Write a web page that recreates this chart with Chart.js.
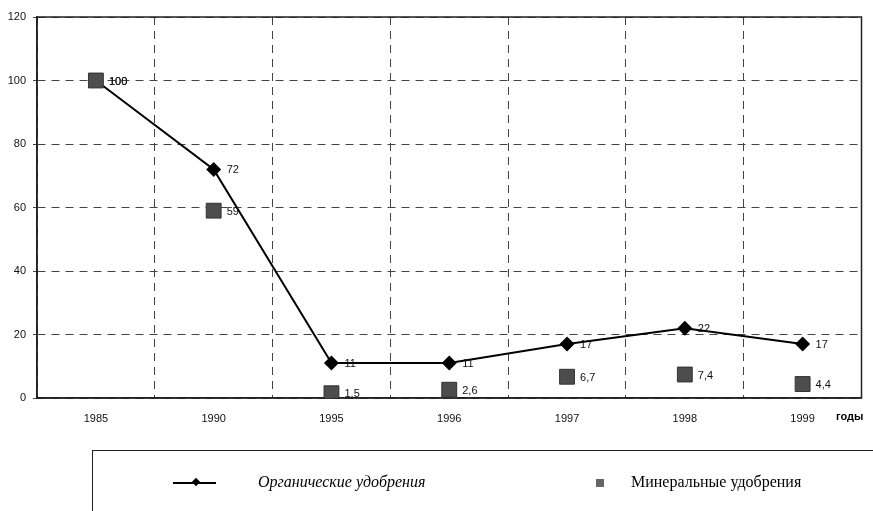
<!DOCTYPE html>
<html>
<head>
<meta charset="utf-8">
<script src="https://cdn.jsdelivr.net/npm/chart.js@4"></script>
<style>
  body { margin: 0; background: #fff; }
  #wrap { position: relative; width: 873px; height: 511px; }
  #years { position: absolute; left: 836px; top: 410px; font: bold 11px "Liberation Sans", Arial, sans-serif; color: #000; }
  #legendBox { position: absolute; left: 92px; top: 450px; width: 781px; height: 61px;
    border-top: 1px solid #222; border-left: 1px solid #222; font-family: "Liberation Serif", "Times New Roman", serif; font-size: 16px; }
  .item { position: absolute; top: 22px; color: #000; }
  .lineSample { position: absolute; left: 80px; top: 31px; width: 43px; height: 2px; background: #000; }
  .diamond { position: absolute; left: 100px; top: 28px; width: 6px; height: 6px; background: #000; transform: rotate(45deg); }
  .squareSample { position: absolute; left: 503px; top: 28px; width: 8px; height: 8px; background: #666; }
</style>
</head>
<body>
<div id="wrap">
  <canvas id="fertChart" width="873" height="511"></canvas>
  <div id="years">годы</div>
  <div id="legendBox">
    <div class="lineSample"></div>
    <div class="diamond"></div>
    <div class="item" style="left:165px;font-style:italic;">Органические удобрения</div>
    <div class="squareSample"></div>
    <div class="item" style="left:538px;">Минеральные удобрения</div>
  </div>
</div>
<script>
const years = ['1985', '1990', '1995', '1996', '1997', '1998', '1999'];
const organic = [100, 72, 11, 11, 17, 22, 17];
const mineral = [100, 59, 1.5, 2.6, 6.7, 7.4, 4.4];
const yTicks = [0, 20, 40, 60, 80, 100, 120];

// value labels next to each point, decimal comma
const pointLabels = {
    id: 'pointLabels',
    afterDatasetsDraw(chart) {
        const ctx = chart.ctx;
        ctx.save();
        ctx.font = '11px "Liberation Sans", Arial, sans-serif';
        ctx.fillStyle = '#111';
        ctx.textAlign = 'left';
        ctx.textBaseline = 'middle';
        chart.data.datasets.forEach((ds, i) => {
            chart.getDatasetMeta(i).data.forEach((pt, j) => {
                const txt = String(ds.data[j]).replace('.', ',');
                ctx.fillText(txt, pt.x + 13, pt.y + 1);
            });
        });
        ctx.restore();
    }
};

// solid frame around the plot area
const plotFrame = {
    id: 'plotFrame',
    beforeDatasetsDraw(chart) {
        const a = chart.chartArea;
        const ctx = chart.ctx;
        ctx.save();
        ctx.strokeStyle = '#222';
        ctx.lineWidth = 1.5;
        ctx.strokeRect(a.left, a.top, a.right - a.left, a.bottom - a.top);
        ctx.restore();
    }
};

const ctx = document.getElementById('fertChart').getContext('2d');
new Chart(ctx, {
    type: 'line',
    data: {
        labels: years,
        datasets: [
            {
                label: 'Органические удобрения',
                data: organic,
                order: 1,
                borderColor: '#000',
                backgroundColor: '#000',
                borderWidth: 2,
                pointStyle: 'rectRot',
                pointRadius: 7.5,
                pointBackgroundColor: '#000',
                pointBorderWidth: 0,
                tension: 0
            },
            {
                label: 'Минеральные удобрения',
                data: mineral,
                order: 0,
                showLine: false,
                pointStyle: 'rect',
                pointRadius: 10.5,
                pointBackgroundColor: '#4d4d4d',
                pointBorderColor: '#333',
                pointBorderWidth: 1
            }
        ]
    },
    options: {
        responsive: false,
        animation: false,
        layout: { padding: { top: 17, right: 9, left: 0, bottom: 83 } },
        plugins: {
            legend: { display: false },
            tooltip: { enabled: false }
        },
        scales: {
            x: {
                offset: true,
                grid: { offset: true, color: '#444', drawTicks: false },
                border: { display: true, color: '#222', width: 1.5, dash: [8, 6] },
                ticks: { color: '#111', font: { family: '"Liberation Sans", Arial, sans-serif', size: 11 }, padding: 14, maxRotation: 0 },
                afterFit: scale => { scale.height = 30; }
            },
            y: {
                min: 0,
                max: 120,
                afterBuildTicks: scale => { scale.ticks = yTicks.map(v => ({ value: v })); },
                grid: { color: '#444', tickLength: 4 },
                border: { display: true, color: '#222', width: 1.5, dash: [8, 6] },
                ticks: { color: '#111', font: { family: '"Liberation Sans", Arial, sans-serif', size: 11 }, padding: 7 },
                afterFit: scale => { scale.width = 37; }
            }
        }
    },
    plugins: [plotFrame, pointLabels]
});
</script>
</body>
</html>
